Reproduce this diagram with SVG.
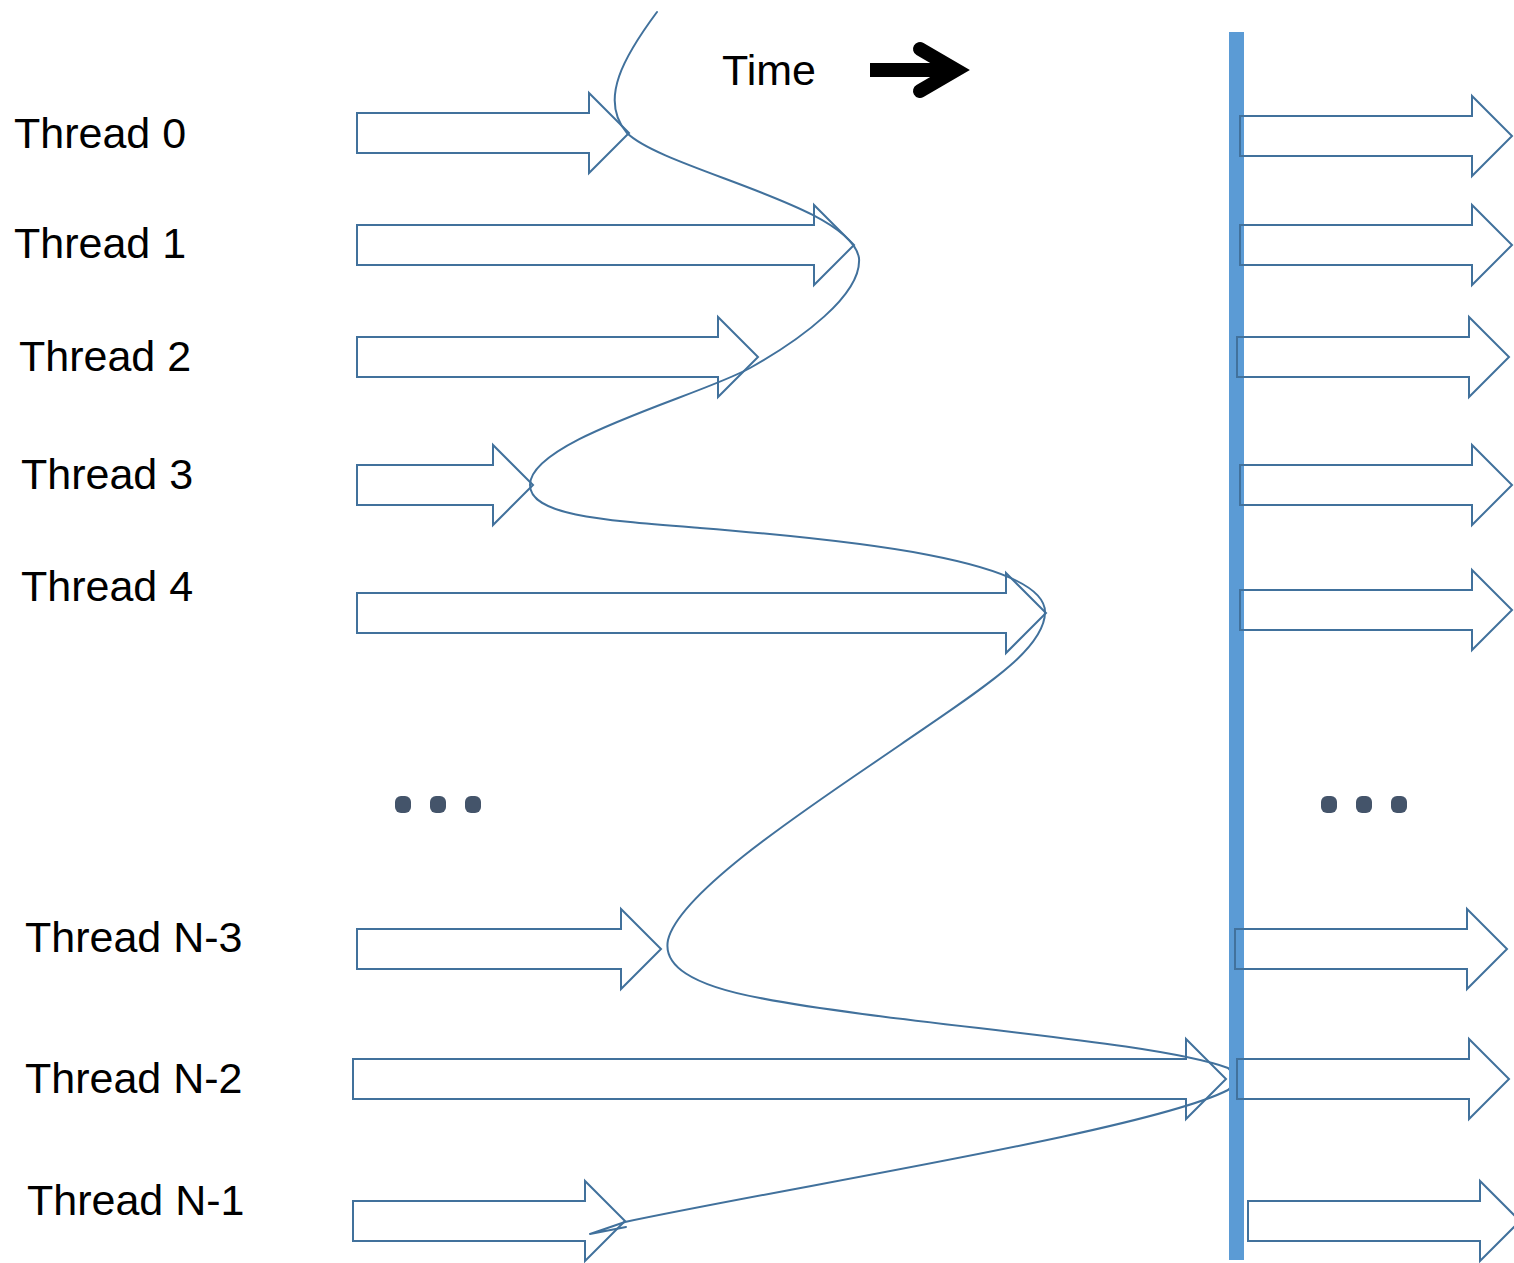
<svg xmlns="http://www.w3.org/2000/svg" width="1514" height="1263" viewBox="0 0 1514 1263">
  <style>
    .lbl { font-family: "Liberation Sans", Arial, sans-serif; font-size: 43px; fill: #000; }
    .work { fill: none; stroke: #41719C; stroke-width: 2; stroke-linejoin: miter; }
    .dot { fill: #44546A; }
    .sync { fill: none; stroke: #41719C; stroke-width: 2; stroke-linecap: round; stroke-linejoin: round; }
  </style>

  <rect width="1514" height="1263" fill="#ffffff"/>

  <!-- time direction -->
  <g id="time">
    <text class="lbl" x="722" y="85">Time</text>
    <rect x="870" y="63" width="84" height="14" fill="#000"/>
    <polyline points="920,49 956,70 920,91" fill="none" stroke="#000" stroke-width="14" stroke-linecap="round" stroke-linejoin="miter"/>
  </g>

  <!-- threads: work before the barrier and work after it -->
  <g id="thread-0">
    <text class="lbl" x="14" y="148">Thread 0</text>
    <path class="work" d="M357,113 H589 V93 L629,133 L589,173 V153 H357 Z"/>
  </g>
  <g id="thread-1">
    <text class="lbl" x="14" y="258">Thread 1</text>
    <path class="work" d="M357,225 H814 V205 L854,245 L814,285 V265 H357 Z"/>
  </g>
  <g id="thread-2">
    <text class="lbl" x="19" y="371">Thread 2</text>
    <path class="work" d="M357,337 H718 V317 L758,357 L718,397 V377 H357 Z"/>
  </g>
  <g id="thread-3">
    <text class="lbl" x="21" y="489">Thread 3</text>
    <path class="work" d="M357,465 H493 V445 L533,485 L493,525 V505 H357 Z"/>
  </g>
  <g id="thread-4">
    <text class="lbl" x="21" y="601">Thread 4</text>
    <path class="work" d="M357,593 H1006 V573 L1046,613 L1006,653 V633 H357 Z"/>
  </g>
  <g id="ellipsis-left">
    <rect class="dot" x="395" y="796" width="16" height="17" rx="6"/>
    <rect class="dot" x="430" y="796" width="16" height="17" rx="6"/>
    <rect class="dot" x="465" y="796" width="16" height="17" rx="6"/>
  </g>
  <g id="thread-n3">
    <text class="lbl" x="25" y="952">Thread N-3</text>
    <path class="work" d="M357,929 H621 V909 L661,949 L621,989 V969 H357 Z"/>
  </g>
  <g id="thread-n2">
    <text class="lbl" x="25" y="1093">Thread N-2</text>
    <path class="work" d="M353,1059 H1186 V1039 L1226,1079 L1186,1119 V1099 H353 Z"/>
  </g>
  <g id="thread-n1">
    <text class="lbl" x="27" y="1215">Thread N-1</text>
    <path class="work" d="M353,1201 H585 V1181 L625,1221 L585,1261 V1241 H353 Z"/>
  </g>

  <!-- connectors: the line joining each thread's finishing point -->
  <g id="connectors">
    <path class="sync" d="M657,12 C625,55 598,100 627,133
      C665,170 850,205 859,258
      C862,295 800,340 750,368
      C700,396 530,440 530,485
      C530,515 600,520 700,528
      C850,540 1045,560 1045,612
      C1045,650 980,690 900,745
      C820,800 680,890 668,940
      C663,965 690,985 760,998
      C900,1025 1150,1040 1228,1068
      Q1240,1079 1228,1090
      C1150,1130 800,1185 625,1222
      L590,1234 L626,1227"/>
  </g>

  <!-- barrier -->
  <g id="barrier">
    <rect x="1229" y="32" width="15" height="1228" fill="#5B9BD5"/>
  </g>

  <g id="after-barrier">
    <path class="work" d="M1240,116 H1472 V96 L1512,136 L1472,176 V156 H1240 Z"/>
    <path class="work" d="M1240,225 H1472 V205 L1512,245 L1472,285 V265 H1240 Z"/>
    <path class="work" d="M1237,337 H1469 V317 L1509,357 L1469,397 V377 H1237 Z"/>
    <path class="work" d="M1240,465 H1472 V445 L1512,485 L1472,525 V505 H1240 Z"/>
    <path class="work" d="M1240,590 H1472 V570 L1512,610 L1472,650 V630 H1240 Z"/>
    <path class="work" d="M1235,929 H1467 V909 L1507,949 L1467,989 V969 H1235 Z"/>
    <path class="work" d="M1237,1059 H1469 V1039 L1509,1079 L1469,1119 V1099 H1237 Z"/>
    <path class="work" d="M1248,1201 H1480 V1181 L1520,1221 L1480,1261 V1241 H1248 Z"/>
  </g>
  <g id="ellipsis-right">
    <rect class="dot" x="1321" y="796" width="16" height="17" rx="6"/>
    <rect class="dot" x="1356" y="796" width="16" height="17" rx="6"/>
    <rect class="dot" x="1391" y="796" width="16" height="17" rx="6"/>
  </g>
</svg>
